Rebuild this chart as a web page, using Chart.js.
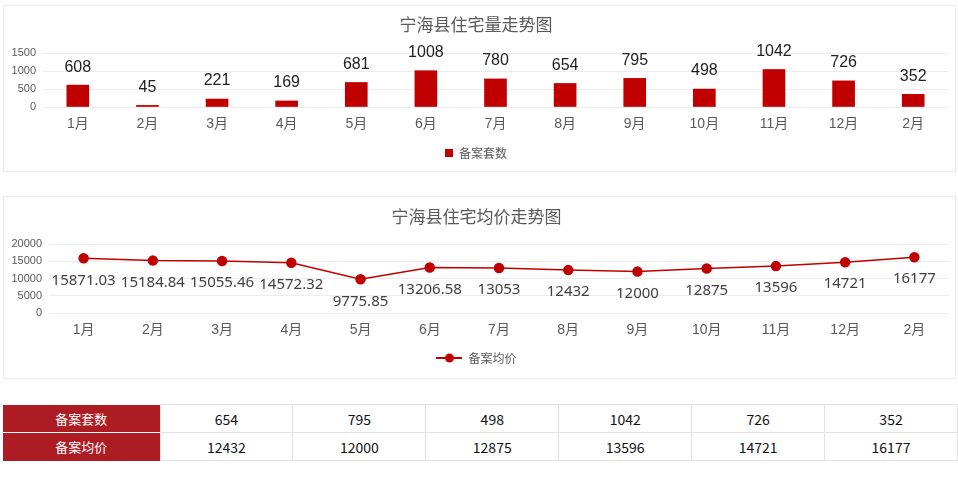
<!DOCTYPE html>
<html>
<head>
<meta charset="utf-8">
<script src="https://cdn.jsdelivr.net/npm/chart.js@4/dist/chart.umd.min.js"></script>
<style>
    body { margin: 0; background: #fff; width: 958px; height: 480px; position: relative; overflow: hidden; }
    .panel { position: absolute; left: 3px; width: 953px; border: 1px solid #ebebeb; box-sizing: border-box; }
    #panel1 { top: 5px; height: 167px; }
    #panel2 { top: 196px; height: 183px; }
    .panel canvas { position: absolute; left: 0; top: 0; }
    table { position: absolute; left: 3px; top: 404px; width: 955px; border-collapse: collapse; table-layout: fixed;
        font-family: "Noto Sans CJK SC", sans-serif; font-size: 14px; color: #111; }
    td { height: 27px; padding: 0; text-align: center; border: 1px solid #e3e3e3; }
    td.head { background: #ad1c22; color: #fff; font-size: 13px; border: none; border-bottom: 1px solid #fff; }
    tr:last-child td.head { border-bottom: none; }
</style>
</head>
<body>
<div class="panel" id="panel1"><canvas id="countChart" width="953" height="167"></canvas></div>
<div class="panel" id="panel2"><canvas id="priceChart" width="953" height="183"></canvas></div>
<table id="summary"></table>

<script>
const months = ["1月", "2月", "3月", "4月", "5月", "6月", "7月", "8月", "9月", "10月", "11月", "12月", "2月"];
const filedCounts = [608, 45, 221, 169, 681, 1008, 780, 654, 795, 498, 1042, 726, 352];
const avgPrices = [15871.03, 15184.84, 15055.46, 14572.32, 9775.85, 13206.58, 13053, 12432, 12000, 12875, 13596, 14721, 16177];
const countTicks = [0, 500, 1000, 1500];
const priceTicks = [0, 5000, 10000, 15000, 20000];

const RED = "#c00000";
const GRAY = "#595959";

const valueLabels = {
    id: "valueLabels",
    afterDatasetsDraw(chart, args, opts) {
        const ctx = chart.ctx;
        const values = chart.data.datasets[0].data;
        ctx.save();
        ctx.font = opts.font;
        ctx.fillStyle = opts.color;
        ctx.textAlign = "center";
        ctx.textBaseline = "middle";
        chart.getDatasetMeta(0).data.forEach((el, i) => {
            ctx.fillText(String(values[i]), el.x, el.y + opts.offset);
        });
        ctx.restore();
    }
};

function makeScales(ticks, yWidth, xHeight) {
    return {
        x: {
            offset: true,
            grid: { display: false, drawTicks: false },
            border: { display: false },
            ticks: { color: GRAY, padding: 9, font: { size: 14 } },
            afterFit: s => { s.height = xHeight; }
        },
        y: {
            min: ticks[0],
            max: ticks[ticks.length - 1],
            afterBuildTicks: s => { s.ticks = ticks.map(v => ({ value: v })); },
            grid: { color: "#ececec", drawTicks: false },
            border: { display: false },
            ticks: { color: GRAY, padding: 7, font: { size: 11 }, callback: v => String(v) },
            afterFit: s => { s.width = yWidth; }
        }
    };
}

Chart.defaults.font.family = "'Liberation Sans', 'Noto Sans CJK SC', sans-serif";
Chart.defaults.animation = false;

new Chart(document.getElementById("countChart"), {
    type: "bar",
    data: {
        labels: months,
        datasets: [{
            label: "备案套数",
            data: filedCounts,
            backgroundColor: RED,
            borderWidth: 0,
            barThickness: 22
        }]
    },
    options: {
        responsive: false,
        layout: { padding: { left: 0, right: 9, top: 0, bottom: 4 } },
        scales: makeScales(countTicks, 39, 30),
        plugins: {
            title: {
                display: true,
                text: "宁海县住宅量走势图",
                color: GRAY,
                font: { size: 17, weight: "normal", family: "'Noto Sans CJK SC', sans-serif" },
                padding: { top: 8, bottom: 18.6 }
            },
            legend: {
                position: "bottom",
                labels: {
                    color: GRAY,
                    boxWidth: 8,
                    boxHeight: 8,
                    font: { size: 12, family: "'Noto Sans CJK SC', sans-serif" }
                }
            },
            tooltip: { enabled: false },
            valueLabels: { font: "16px 'Liberation Sans', sans-serif", color: "#222", offset: -18 }
        }
    },
    plugins: [valueLabels]
});

// legend marker: short line with a dot, like the series itself
const lineMarker = document.createElement("canvas");
lineMarker.width = 26;
lineMarker.height = 12;
const mctx = lineMarker.getContext("2d");
mctx.strokeStyle = RED;
mctx.lineWidth = 2;
mctx.beginPath();
mctx.moveTo(0, 6);
mctx.lineTo(26, 6);
mctx.stroke();
mctx.fillStyle = RED;
mctx.beginPath();
mctx.arc(13, 6, 4.5, 0, Math.PI * 2);
mctx.fill();

new Chart(document.getElementById("priceChart"), {
    type: "line",
    data: {
        labels: months,
        datasets: [{
            label: "备案均价",
            data: avgPrices,
            borderColor: RED,
            borderWidth: 1.5,
            pointRadius: 4.5,
            pointBackgroundColor: RED,
            pointBorderColor: RED,
            tension: 0
        }]
    },
    options: {
        responsive: false,
        layout: { padding: { left: 0, right: 8, top: 0, bottom: 6 } },
        scales: makeScales(priceTicks, 45, 29),
        plugins: {
            title: {
                display: true,
                text: "宁海县住宅均价走势图",
                color: GRAY,
                font: { size: 17, weight: "normal", family: "'Noto Sans CJK SC', sans-serif" },
                padding: { top: 9, bottom: 17.6 }
            },
            legend: {
                position: "bottom",
                labels: {
                    color: GRAY,
                    usePointStyle: true,
                    pointStyleWidth: 26,
                    font: { size: 12, family: "'Noto Sans CJK SC', sans-serif" },
                    generateLabels: chart => [{
                        text: chart.data.datasets[0].label,
                        pointStyle: lineMarker,
                        fontColor: GRAY,
                        datasetIndex: 0,
                        lineWidth: 0
                    }]
                }
            },
            tooltip: { enabled: false },
            valueLabels: { font: "15px 'Noto Sans', sans-serif", color: "#404040", offset: 22 }
        }
    },
    plugins: [valueLabels]
});

// summary table: the last six months of both series
const tableRows = [["备案套数", filedCounts.slice(-6)], ["备案均价", avgPrices.slice(-6)]];
const table = document.getElementById("summary");
const colgroup = document.createElement("colgroup");
colgroup.innerHTML = '<col style="width:157px">' + '<col>'.repeat(6);
table.appendChild(colgroup);
tableRows.forEach(([name, values]) => {
    const tr = document.createElement("tr");
    tr.innerHTML = '<td class="head">' + name + "</td>" + values.map(v => "<td>" + v + "</td>").join("");
    table.appendChild(tr);
});
</script>
</body>
</html>
